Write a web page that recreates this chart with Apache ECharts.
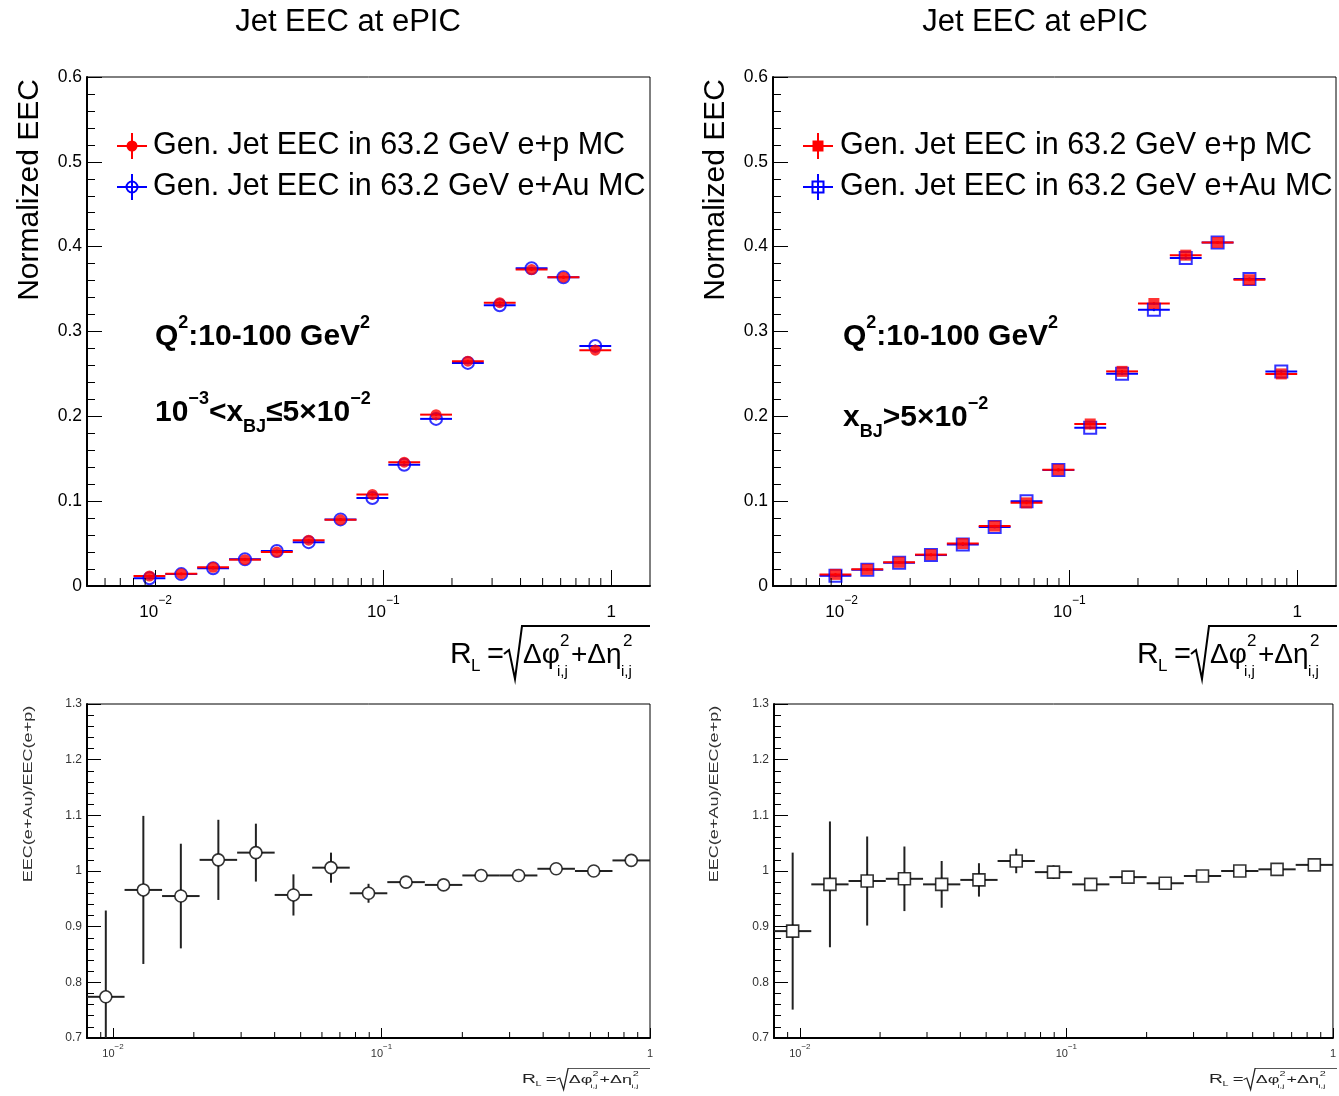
<!DOCTYPE html>
<html>
<head>
<meta charset="utf-8">
<script src="https://cdn.jsdelivr.net/npm/echarts@6/dist/echarts.min.js"></script>
<style>
html,body{margin:0;padding:0;background:#fff;}
#c{width:1339px;height:1096px;}
</style>
</head>
<body>
<div id="c"></div>
<script>
// ---------------- data ----------------
const binEdges   = [0.008, 0.01104, 0.01523, 0.02101, 0.02899, 0.04, 0.05519, 0.07615, 0.1051, 0.1450, 0.2, 0.2759, 0.3807, 0.5253, 0.7248, 1.0];
const binCenters = [0.0094, 0.01297, 0.01789, 0.02468, 0.03405, 0.04699, 0.06483, 0.08946, 0.1234, 0.1703, 0.2349, 0.3241, 0.4472, 0.6171, 0.8514];

// left column: Q2 10-100, 1e-3 < xBJ <= 5e-2
const eecEpLow    = [0.0118, 0.0145, 0.022, 0.031, 0.040, 0.054, 0.078, 0.108, 0.146, 0.202, 0.265, 0.334, 0.373, 0.364, 0.278];
const eecEpLowErr = [0.0016, 0.0015, 0.0015, 0.0015, 0.0015, 0.0015, 0.0015, 0.0015, 0.0016, 0.0016, 0.0016, 0.0016, 0.0017, 0.0017, 0.0016];
const eecAuLow    = [0.0091, 0.0140, 0.021, 0.0316, 0.0413, 0.0517, 0.0785, 0.1037, 0.143, 0.197, 0.263, 0.331, 0.3745, 0.364, 0.283];
const eecAuLowErr = [0.0015, 0.0014, 0.0014, 0.0015, 0.0015, 0.0015, 0.0015, 0.0015, 0.0016, 0.0016, 0.0016, 0.0016, 0.0017, 0.0017, 0.0016];
const ratioLow    = [0.774, 0.966, 0.955, 1.020, 1.033, 0.957, 1.006, 0.960, 0.980, 0.975, 0.992, 0.992, 1.004, 1.000, 1.019];
const ratioLowErr = [0.155, 0.133, 0.094, 0.072, 0.052, 0.037, 0.027, 0.017, 0.011, 0.009, 0.008, 0.007, 0.007, 0.007, 0.008];

// right column: Q2 10-100, xBJ > 5e-2
const eecEpHigh    = [0.0137, 0.0196, 0.028, 0.037, 0.050, 0.0706, 0.098, 0.137, 0.191, 0.253, 0.333, 0.390, 0.405, 0.361, 0.250];
const eecEpHighErr = [0.0015, 0.0015, 0.0015, 0.0015, 0.0015, 0.0015, 0.0015, 0.0016, 0.0016, 0.0016, 0.0017, 0.0017, 0.0017, 0.0017, 0.0016];
const eecAuHigh    = [0.0122, 0.0191, 0.0275, 0.0365, 0.0488, 0.0695, 0.0998, 0.1367, 0.1864, 0.2502, 0.3257, 0.3865, 0.405, 0.362, 0.2528];
const eecAuHighErr = [0.0015, 0.0015, 0.0015, 0.0015, 0.0015, 0.0015, 0.0015, 0.0016, 0.0016, 0.0016, 0.0017, 0.0017, 0.0017, 0.0017, 0.0016];
const ratioHigh    = [0.892, 0.976, 0.982, 0.986, 0.976, 0.984, 1.018, 0.998, 0.976, 0.989, 0.978, 0.991, 1.000, 1.003, 1.011];
const ratioHighErr = [0.141, 0.113, 0.080, 0.058, 0.042, 0.030, 0.022, 0.012, 0.009, 0.008, 0.007, 0.007, 0.006, 0.006, 0.007];

// axis ranges and tick values
const TOP_X_RANGE   = [0.005, 1.48];
const RATIO_X_RANGE = [0.008, 1];
const TOP_Y_RANGE   = [0, 0.6];
const RATIO_Y_RANGE = [0.7, 1.3];
const topMinorTicks   = [0.006, 0.007, 0.008, 0.009, 0.02, 0.03, 0.04, 0.05, 0.06, 0.07, 0.08, 0.09, 0.2, 0.3, 0.4, 0.5, 0.6, 0.7, 0.8, 0.9];
const ratioMinorTicks = [0.009, 0.02, 0.03, 0.04, 0.05, 0.06, 0.07, 0.08, 0.09, 0.2, 0.3, 0.4, 0.5, 0.6, 0.7, 0.8, 0.9];

const panelTitle  = 'Jet EEC at ePIC';
const legendEp    = 'Gen. Jet EEC in 63.2 GeV e+p MC';
const legendAu    = 'Gen. Jet EEC in 63.2 GeV e+Au MC';
const yTitleTop   = 'Normalized EEC';
const yTitleRatio = 'EEC(e+Au)/EEC(e+p)';

// ---------------- chart ----------------
const FONT = '"Liberation Sans", Arial, Helvetica, sans-serif';
const chart = echarts.init(document.getElementById('c'));

const grids = [
  {left: 87,  top: 77,  width: 563, height: 509},
  {left: 773, top: 77,  width: 563, height: 509},
  {left: 87,  top: 704, width: 563, height: 334},
  {left: 774, top: 704, width: 563, height: 334}
];

function logFormatter(v) {
  const k = Math.round(Math.log10(v));
  if (k === 0) return '{n|1}';
  return '{n|10}{s|\u2212' + Math.abs(k) + '}';
}

function xAxis(idx, range, big) {
  return {
    gridIndex: idx, type: 'log', logBase: 10, min: range[0], max: range[1],
    axisLine: {show: true, onZero: false, lineStyle: {color: '#000', width: 2}},
    axisTick: {show: true, inside: true, length: big ? 16 : 10, lineStyle: {color: '#000', width: 1}},
    splitLine: {show: false},
    axisLabel: {
      margin: big ? 9 : 5, showMinLabel: false, showMaxLabel: !big,
      formatter: logFormatter, color: '#000',
      rich: big ? {
        n: {fontSize: 17, fontFamily: FONT, color: '#000', lineHeight: 26, verticalAlign: 'bottom'},
        s: {fontSize: 12, fontFamily: FONT, color: '#000', lineHeight: 14, verticalAlign: 'top'}
      } : {
        n: {fontSize: 11, fontFamily: FONT, color: '#333', lineHeight: 16, verticalAlign: 'bottom'},
        s: {fontSize: 8, fontFamily: FONT, color: '#333', lineHeight: 9, verticalAlign: 'top'}
      }
    }
  };
}

function yAxis(idx, range, big) {
  return {
    gridIndex: idx, type: 'value', min: range[0], max: range[1], interval: 0.1,
    axisLine: {show: true, onZero: false, lineStyle: {color: '#000', width: 2}},
    axisTick: {show: true, inside: true, length: big ? 15 : 14, lineStyle: {color: '#000', width: 1}},
    minorTick: {show: true, splitNumber: 5, length: big ? 8 : 7, lineStyle: {color: '#000', width: 1}},
    splitLine: {show: false}, minorSplitLine: {show: false},
    axisLabel: {
      margin: 5, color: big ? '#000' : '#333', fontSize: big ? 17.5 : 12, fontFamily: FONT
    }
  };
}

// error bars; "gap" leaves the marker area free (pixels), as ROOT does
function errSeries(idx, ys, errs, color, lw, z, gap) {
  return {
    type: 'custom', xAxisIndex: idx, yAxisIndex: idx, z: z, silent: true, clip: true,
    encode: {x: 0, y: 1},
    data: binCenters.map((x, i) => [x, ys[i], binEdges[i], binEdges[i + 1], errs[i]]),
    renderItem: function (params, api) {
      const x = api.value(0), y = api.value(1), lo = api.value(2), hi = api.value(3), e = api.value(4);
      const p = api.coord([x, y]);
      const a = api.coord([lo, y]), b = api.coord([hi, y]);
      const c = api.coord([x, y - e]), d = api.coord([x, y + e]);
      const st = {stroke: color, lineWidth: lw};
      const kids = [];
      function seg(x1, y1, x2, y2) {
        if (Math.abs(x2 - x1) + Math.abs(y2 - y1) > 0.5) kids.push({type: 'line', shape: {x1: x1, y1: y1, x2: x2, y2: y2}, style: st});
      }
      if (gap > 0) {
        if (p[0] - gap > a[0]) seg(a[0], a[1], p[0] - gap, p[1]);
        if (b[0] > p[0] + gap) seg(p[0] + gap, p[1], b[0], b[1]);
        if (c[1] > p[1] + gap) seg(p[0], p[1] + gap, c[0], c[1]);
        if (d[1] < p[1] - gap) seg(p[0], p[1] - gap, d[0], d[1]);
      } else {
        seg(a[0], a[1], b[0], b[1]);
        seg(c[0], c[1], d[0], d[1]);
      }
      return {type: 'group', children: kids};
    }
  };
}

function markerSeries(idx, ys, symbol, size, style, z) {
  return {
    type: 'scatter', xAxisIndex: idx, yAxisIndex: idx, z: z, silent: true,
    symbol: symbol, symbolSize: size, itemStyle: style,
    data: binCenters.map((x, i) => [x, ys[i]])
  };
}

function minorTickSeries(idx, vals, yBase, len) {
  return {
    type: 'custom', xAxisIndex: idx, yAxisIndex: idx, z: 20, silent: true,
    encode: {x: 0, y: 1},
    data: vals.map(v => [v, yBase]),
    renderItem: function (params, api) {
      const p = api.coord([api.value(0), api.value(1)]);
      return {type: 'line', shape: {x1: p[0], y1: p[1], x2: p[0], y2: p[1] - len}, style: {stroke: '#000', lineWidth: 1}};
    }
  };
}

const RED = '#ff0000', BLUE = '#0000ff', BLK = '#222';

const series = [
  // top left
  errSeries(0, eecAuLow, eecAuLowErr, BLUE, 2, 2, 0),
  errSeries(0, eecEpLow, eecEpLowErr, RED, 2, 3, 0),
  markerSeries(0, eecAuLow, 'circle', 12, {color: 'rgba(0,0,0,0)', borderColor: BLUE, borderWidth: 2}, 8),
  markerSeries(0, eecEpLow, 'circle', 11, {color: RED}, 9),
  // top right
  errSeries(1, eecAuHigh, eecAuHighErr, BLUE, 2, 2, 0),
  errSeries(1, eecEpHigh, eecEpHighErr, RED, 2, 3, 0),
  markerSeries(1, eecAuHigh, 'rect', 12, {color: 'rgba(0,0,0,0)', borderColor: BLUE, borderWidth: 2}, 8),
  markerSeries(1, eecEpHigh, 'rect', 11, {color: RED}, 9),
  // ratios
  errSeries(2, ratioLow, ratioLowErr, BLK, 2, 2, 6),
  markerSeries(2, ratioLow, 'circle', 12, {color: '#fff', borderColor: '#000', borderWidth: 1.6}, 9),
  errSeries(3, ratioHigh, ratioHighErr, BLK, 2, 2, 6),
  markerSeries(3, ratioHigh, 'rect', 12, {color: '#fff', borderColor: '#000', borderWidth: 1.6}, 9),
  // log minor ticks
  minorTickSeries(0, topMinorTicks, TOP_Y_RANGE[0], 8),
  minorTickSeries(1, topMinorTicks, TOP_Y_RANGE[0], 8),
  minorTickSeries(2, ratioMinorTicks, RATIO_Y_RANGE[0], 6),
  minorTickSeries(3, ratioMinorTicks, RATIO_Y_RANGE[0], 6)
];

// ---------------- text / legend graphics ----------------
function txt(x, y, text, fs, opts) {
  opts = opts || {};
  const el = {type: 'text', x: x, y: y, silent: true,
    style: Object.assign({text: text, fontSize: fs, fontFamily: FONT, fill: '#000', align: 'left', verticalAlign: 'middle'}, opts.style || {})};
  ['rotation', 'scaleX', 'scaleY'].forEach(k => { if (opts[k] !== undefined) el[k] = opts[k]; });
  return el;
}

function richLabel(x, y, text) {
  const base = {fontFamily: FONT, fontWeight: 'bold', fill: '#000'};
  return {type: 'text', x: x, y: y, silent: true, style: {
    text: text, fontFamily: FONT, fontWeight: 'bold', fontSize: 30, fill: '#000', verticalAlign: 'middle', align: 'left',
    rich: {
      n: Object.assign({fontSize: 30, lineHeight: 46, verticalAlign: 'middle'}, base),
      sup: Object.assign({fontSize: 18, lineHeight: 18, verticalAlign: 'top'}, base),
      sub: Object.assign({fontSize: 18, lineHeight: 16, verticalAlign: 'bottom'}, base)
    }
  }};
}

function legend(xm, xt, y1, y2, sym) {
  const els = [];
  function cross(y, color) {
    els.push({type: 'line', silent: true, shape: {x1: xm - 15, y1: y, x2: xm + 15, y2: y}, style: {stroke: color, lineWidth: 2}});
    els.push({type: 'line', silent: true, shape: {x1: xm, y1: y - 13, x2: xm, y2: y + 13}, style: {stroke: color, lineWidth: 2}});
  }
  cross(y1, RED);
  cross(y2, BLUE);
  if (sym === 'circle') {
    els.push({type: 'circle', silent: true, shape: {cx: xm, cy: y1, r: 5.5}, style: {fill: RED}});
    els.push({type: 'circle', silent: true, shape: {cx: xm, cy: y2, r: 5.5}, style: {fill: 'rgba(0,0,0,0)', stroke: BLUE, lineWidth: 2}});
  } else {
    els.push({type: 'rect', silent: true, shape: {x: xm - 5.5, y: y1 - 5.5, width: 11, height: 11}, style: {fill: RED}});
    els.push({type: 'rect', silent: true, shape: {x: xm - 5.5, y: y2 - 5.5, width: 11, height: 11}, style: {fill: 'rgba(0,0,0,0)', stroke: BLUE, lineWidth: 2}});
  }
  els.push(txt(xt, y1, legendEp, 30.5));
  els.push(txt(xt, y2, legendAu, 30.5));
  return els;
}

// R_L = sqrt(dphi^2 + deta^2) label, local coordinates relative to its right end / centre line
function rlFormula(xRight, yCenter, sx, sy, color) {
  const c = color || '#000';
  function t(x, y, s, fs) {
    return {type: 'text', x: x, y: y, silent: true, style: {text: s, fontSize: fs, fontFamily: FONT, fill: c, align: 'left', verticalAlign: 'middle'}};
  }
  return {
    type: 'group', x: xRight, y: yCenter, scaleX: sx, scaleY: sy, silent: true,
    children: [
      t(-200, 0, 'R', 30),
      t(-179, 11, 'L', 17),
      t(-163, 0, '=', 29),
      {type: 'polyline', silent: true, shape: {points: [[-146, -1], [-141, -5], [-135, 24], [-128, -29], [0, -29]]}, style: {stroke: c, lineWidth: 2, fill: null}},
      t(-127, 0, '\u0394\u03c6', 28),
      t(-90, -14, '2', 17),
      t(-93, 17, 'i,j', 15),
      t(-79, 0, '+\u0394\u03b7', 28),
      t(-27, -14, '2', 17),
      t(-29, 17, 'i,j', 15)
    ]
  };
}

const graphics = [];
// titles
graphics.push(txt(348, 22, panelTitle, 31, {style: {align: 'center'}}));
graphics.push(txt(1035, 22, panelTitle, 31, {style: {align: 'center'}}));
// y titles
graphics.push(txt(30, 190, yTitleTop, 30, {rotation: Math.PI / 2, style: {align: 'center'}}));
graphics.push(txt(716, 190, yTitleTop, 30, {rotation: Math.PI / 2, style: {align: 'center'}}));
graphics.push(txt(28, 794, yTitleRatio, 11, {rotation: Math.PI / 2, scaleX: 1.64, scaleY: 1.2, style: {align: 'center', fill: '#333'}}));
graphics.push(txt(714, 794, yTitleRatio, 11, {rotation: Math.PI / 2, scaleX: 1.64, scaleY: 1.2, style: {align: 'center', fill: '#333'}}));
// legends
legend(132, 153, 146, 187, 'circle').forEach(e => graphics.push(e));
legend(818, 840, 146, 187, 'rect').forEach(e => graphics.push(e));
// selection labels
graphics.push(richLabel(155, 337, '{n|Q}{sup|2}{n|:10-100 GeV}{sup|2}'));
graphics.push(richLabel(155, 413, '{n|10}{sup|\u22123}{n|<x}{sub|BJ}{n|\u22645\u00d710}{sup|\u22122}'));
graphics.push(richLabel(843, 337, '{n|Q}{sup|2}{n|:10-100 GeV}{sup|2}'));
graphics.push(richLabel(843, 418, '{n|x}{sub|BJ}{n|>5\u00d710}{sup|\u22122}'));
// x titles
graphics.push(rlFormula(650, 655, 1, 1));
graphics.push(rlFormula(1337, 655, 1, 1));
graphics.push(rlFormula(650, 1080, 0.64, 0.40, '#222'));
graphics.push(rlFormula(1337, 1080, 0.64, 0.40, '#222'));

const option = {
  animation: false,
  backgroundColor: '#fff',
  textStyle: {fontFamily: FONT},
  grid: grids.map(g => Object.assign({show: true, borderColor: '#000', borderWidth: 1, backgroundColor: 'rgba(0,0,0,0)', containLabel: false}, g)),
  xAxis: [xAxis(0, TOP_X_RANGE, true), xAxis(1, TOP_X_RANGE, true), xAxis(2, RATIO_X_RANGE, false), xAxis(3, RATIO_X_RANGE, false)],
  yAxis: [yAxis(0, TOP_Y_RANGE, true), yAxis(1, TOP_Y_RANGE, true), yAxis(2, RATIO_Y_RANGE, false), yAxis(3, RATIO_Y_RANGE, false)],
  series: series,
  graphic: {elements: graphics}
};
chart.setOption(option);
</script>
</body>
</html>
